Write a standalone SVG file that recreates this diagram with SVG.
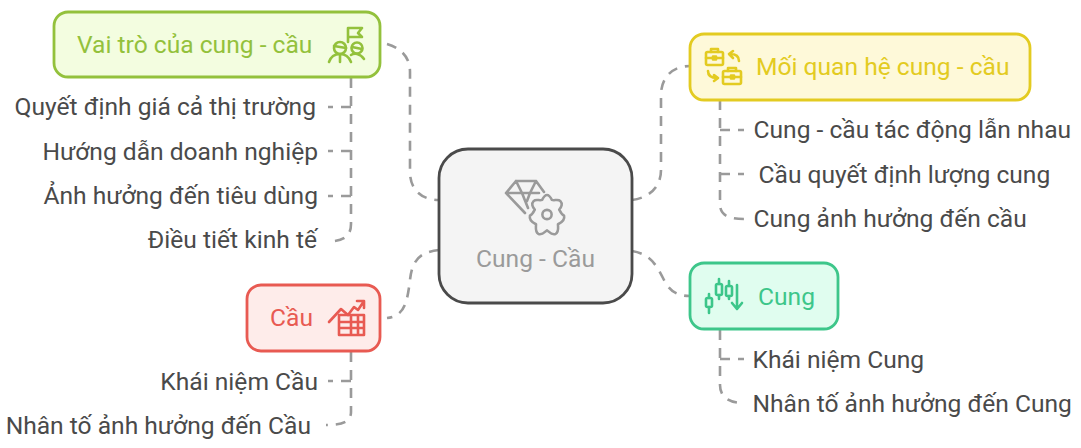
<svg xmlns="http://www.w3.org/2000/svg" width="1081" height="448" viewBox="0 0 1081 448">
<style>
text{font-family:Roboto,"Liberation Sans",sans-serif;font-size:24.6px}
.l{fill:#4a4a4a}
.c{fill:none;stroke:#9a9a9a;stroke-width:2.6;stroke-dasharray:10 8}
.i{fill:none;stroke-width:2.6;stroke-linecap:round;stroke-linejoin:round}
</style>
<rect width="1081" height="448" fill="#fff"/>
<g id="connectors">
<path class="c" d="M387 44C400 48 410 56 410 72V172C410 190 422 200 439 200"/>
<path class="c" d="M351 78V224C351 236 344 241 328 241.500"/>
<path class="c" d="M351 107H328"/>
<path class="c" d="M351 151H328"/>
<path class="c" d="M351 196H328"/>
<path class="c" d="M632 200C648 198 661 188 661 170V95C661 78 672 66 690 66"/>
<path class="c" d="M720 100V204C720 216 730 219 744 219"/>
<path class="c" d="M720 130H744"/>
<path class="c" d="M720 174H744"/>
<path class="c" d="M632 251C650 254 656 264 664 280C670 292 678 296 690 296"/>
<path class="c" d="M720 330V385C720 398 730 403 744 403"/>
<path class="c" d="M720 359H744"/>
<path class="c" d="M439 250C420 252 412 260 410 280C407 304 404 316 387 318"/>
<path class="c" d="M351 352V412C351 422 342 425 326 425"/>
<path class="c" d="M351 381H328"/>
</g>
<g id="center">
<rect x="439" y="149" width="193" height="154" rx="29" fill="#f4f4f4" stroke="#4a4a4a" stroke-width="2.8"/>
<g class="i" stroke="#9a9a9a">
<path d="M516 181H536L544 192M516 181L506 193L525 213M506 193H539M516 181L522 193L528 208M536 181L530 193L527 201"/>
<g transform="translate(547 214.500) scale(1.220) translate(-549 -213)">
<path d="M549 197C551 197 552 199 553 201C555 202 558 200 560 202C562 204 561 207 559 209C560 211 561 213 563 214C564 218 560 220 558 221C558 224 559 227 556 229C552 230 551 227 549 226C547 227 546 230 542 229C539 227 540 224 540 221C538 220 534 218 535 214C537 213 538 211 539 209C537 207 536 204 538 202C540 200 543 202 545 201C546 199 547 197 549 197Z" stroke-width="2.100"/>
<circle cx="549" cy="213" r="3.800" stroke-width="2.100"/>
</g>
</g>
<text x="535.5" y="267" text-anchor="middle" fill="#9a9a9a">Cung - Cầu</text>
</g>
<g id="vai-tro">
<rect x="54" y="12" width="326" height="65" rx="14" fill="#f3fde0" stroke="#93c13c" stroke-width="2.8"/>
<text x="77" y="53" fill="#93c13c">Vai trò của cung - cầu</text>
<g class="i" stroke="#93c13c">
<path d="M348 42V28H362L358 33L362 37H348"/>
<circle cx="340" cy="48" r="6"/><circle cx="357" cy="48" r="5.500"/>
<path d="M334 46L346 48M352 47L362 49M329 62C331 56 336 54 340 54C345 54 349 57 351 62M340 55V62M351 55C354 53 360 53 364 59"/>
</g>
</g>
<g id="moi-quan-he">
<rect x="690" y="34" width="340" height="66" rx="14" fill="#fef9d9" stroke="#e3cb21" stroke-width="2.8"/>
<text x="756" y="75" fill="#e3cb21">Mối quan hệ cung - cầu</text>
<g class="i" stroke="#e3cb21">
<rect x="706" y="52" width="17" height="13" rx="1.500"/><path d="M711 52V49H718V52M706 58H723"/><rect x="713" y="56.500" width="3" height="3"/>
<rect x="723" y="71" width="18" height="13" rx="1.500"/><path d="M728 71V68H736V71M723 77H741"/><rect x="731" y="75.500" width="3" height="3"/>
<path d="M739 61C739 56 736 54 730 54M733 51L729 54L733 58"/>
<path d="M708 71C708 76 711 78 717 78M714 75L718 78L714 81"/>
</g>
</g>
<g id="cung">
<rect x="690" y="263" width="148" height="66" rx="14" fill="#e0fdef" stroke="#3dc68a" stroke-width="2.8"/>
<text x="758" y="305" fill="#3dc68a">Cung</text>
<g class="i" stroke="#3dc68a">
<rect x="706" y="298" width="6" height="9" rx="1.500"/><path d="M709 294V298M709 307V313"/>
<rect x="716" y="284" width="6" height="11" rx="1.500"/><path d="M719 279V284M719 295V299"/>
<rect x="726" y="286" width="6" height="10" rx="1.500"/><path d="M729 281V286M729 296V299"/>
<path d="M737 285V309M732 303L737 309L742 303"/>
</g>
</g>
<g id="cau">
<rect x="247" y="285" width="133" height="66" rx="14" fill="#feecea" stroke="#e85a52" stroke-width="2.8"/>
<text x="270" y="326" fill="#e85a52">Cầu</text>
<g class="i" stroke="#e85a52">
<path d="M329 322L341 309L348 315L354 307L358 310L364 301M357 301H364V308"/>
<path d="M339 315H364V335H339ZM339 322H364M339 328H364M351 315V335M358 315V335"/>
</g>
</g>
<g id="l-quyet-dinh"><text class="l" x="316" y="115" text-anchor="end">Quyết định giá cả thị trường</text></g>
<g id="l-huong-dan"><text class="l" x="318" y="160" text-anchor="end">Hướng dẫn doanh nghiệp</text></g>
<g id="l-anh-huong"><text class="l" x="318" y="204" text-anchor="end">Ảnh hưởng đến tiêu dùng</text></g>
<g id="l-dieu-tiet"><text class="l" x="317" y="248" text-anchor="end">Điều tiết kinh tế</text></g>
<g id="l-khai-niem-cau"><text class="l" x="318" y="390" text-anchor="end">Khái niệm Cầu</text></g>
<g id="l-nhan-to-cau"><text class="l" x="311" y="434" text-anchor="end">Nhân tố ảnh hưởng đến Cầu</text></g>
<g id="l-tac-dong"><text class="l" x="753.500" y="138">Cung - cầu tác động lẫn nhau</text></g>
<g id="l-luong-cung"><text class="l" x="758.500" y="183">Cầu quyết định lượng cung</text></g>
<g id="l-den-cau"><text class="l" x="753.500" y="227">Cung ảnh hưởng đến cầu</text></g>
<g id="l-khai-niem-cung"><text class="l" x="752.500" y="368">Khái niệm Cung</text></g>
<g id="l-nhan-to-cung"><text class="l" x="752.500" y="412">Nhân tố ảnh hưởng đến Cung</text></g>
</svg>
